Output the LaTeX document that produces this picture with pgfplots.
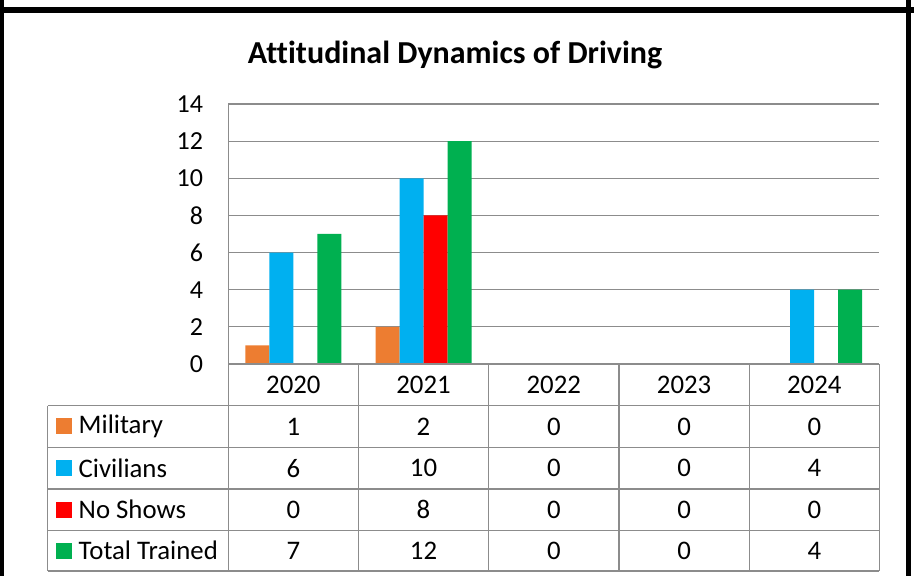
\documentclass[border=0pt]{standalone}
\usepackage{pgfplots}
\pgfplotsset{compat=1.18}
\usepackage{fontspec}
\setmainfont{Carlito}[Ligatures=NoCommon]
\definecolor{mil}{HTML}{ED7D31}
\definecolor{civ}{HTML}{00B0F0}
\definecolor{nos}{HTML}{FF0000}
\definecolor{tot}{HTML}{00B050}
\definecolor{gridc}{HTML}{8C8C8C}
\newcommand{\tf}{\fontsize{26.8}{30}\selectfont}
\newcommand{\kf}{\fontsize{26}{30}\selectfont}
\begin{document}
\begin{tikzpicture}[x=1pt,y=1pt]
\path[use as bounding box] (0,0) rectangle (914,576);
\fill[white] (0,0) rectangle (914,576);
\begin{axis}[at={(228.3pt,212pt)}, anchor=south west, scale only axis,
  width=651pt, height=260pt,
  xmin=-0.5, xmax=4.5, ymin=0, ymax=14,
  ytick={0,2,...,14}, xtick=\empty,
  ymajorgrids, grid style={gridc, line width=1.1pt},
  axis line style={draw=none}, major tick length=0pt,
  /pgf/number format/assume math mode=true,
  yticklabel style={font=\kf, inner sep=0pt, xshift=-25pt},
  ybar=0pt, bar width=24pt, clip=false]
\addplot[fill=mil, draw=none] coordinates {(0,1)(1,2)(2,0)(3,0)(4,0)};
\addplot[fill=civ, draw=none] coordinates {(0,6)(1,10)(2,0)(3,0)(4,4)};
\addplot[fill=nos, draw=none] coordinates {(0,0)(1,8)(2,0)(3,0)(4,0)};
\addplot[fill=tot, draw=none] coordinates {(0,7)(1,12)(2,0)(3,0)(4,4)};
\end{axis}
% table lines
\begin{scope}[gridc, line width=1.2pt]
\draw (228.3,212) -- (879.3,212);
\foreach \y in {170.3,128.7,87,45.7,5} \draw (47.7,\y) -- (879.3,\y);
\draw (47.7,5) -- (47.7,170.3);
\draw (228.3,5) -- (228.3,472);
\foreach \x in {358.5,488.6,619,749.3,879.3} \draw (\x,5) -- (\x,212);
\end{scope}
% header
\foreach \x/\t in {293.4/2020,423.5/2021,553.8/2022,684.1/2023,814.3/2024}
  \node[font=\tf] at (\x,191) {\t};
% rows
\foreach \y/\c/\n/\a/\b/\cc/\d/\e in {149.5/mil/Military/1/2/0/0/0, 107.9/civ/Civilians/6/10/0/0/4, 66.4/nos/No Shows/0/8/0/0/0, 25.4/tot/Total Trained/7/12/0/0/4}{
  \fill[\c] (56,\y-8) rectangle (72,\y+8);
  \node[font=\tf, anchor=west, inner sep=0pt] at (78.5,\y) {\n};
  \node[font=\tf] at (293.4,\y) {\a};
  \node[font=\tf] at (423.5,\y) {\b};
  \node[font=\tf] at (553.8,\y) {\cc};
  \node[font=\tf] at (684.1,\y) {\d};
  \node[font=\tf] at (814.3,\y) {\e};
}
% title
\node[font=\fontsize{32}{38}\selectfont\bfseries] at (455,521) {Attitudinal Dynamics of Driving};
% frame
\draw[black, line width=6pt] (0,565.7) -- (914,565.7);
\draw[black, line width=3.5pt] (2.2,0) -- (2.2,576);
\draw[black, line width=5.5pt] (908.5,0) -- (908.5,576);
\end{tikzpicture}
\end{document}
